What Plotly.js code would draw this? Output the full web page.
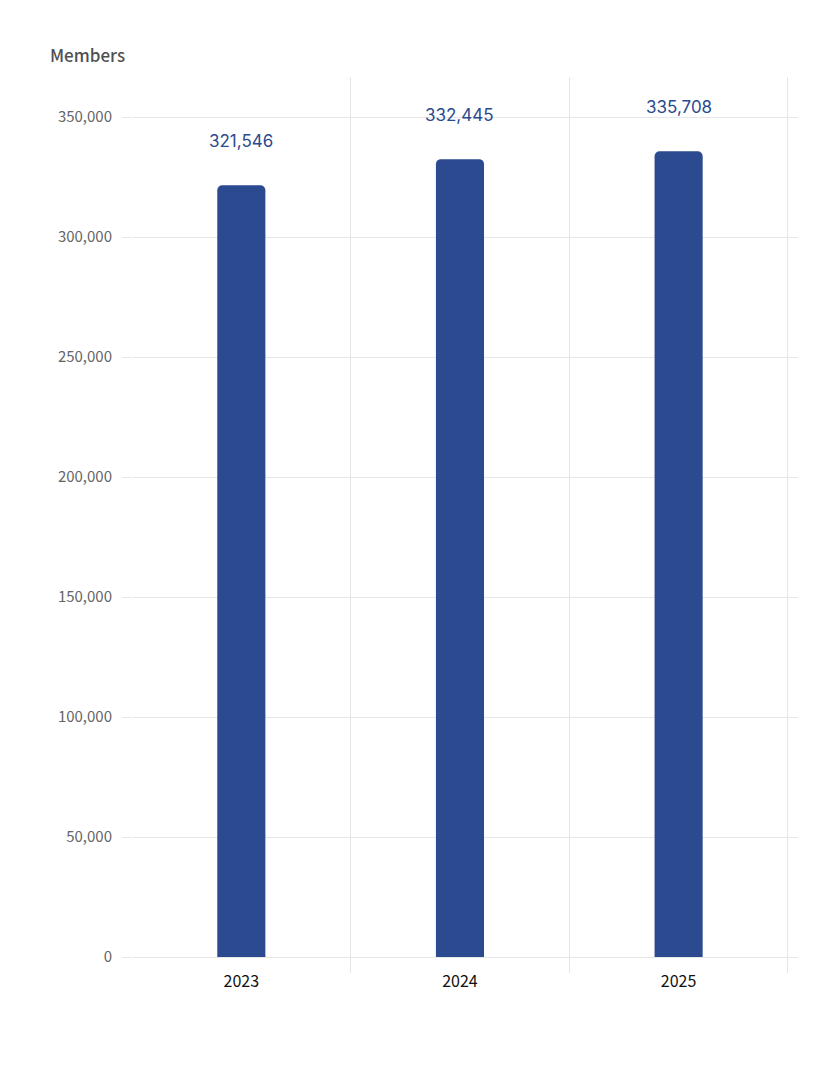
<!DOCTYPE html>
<html>
<head>
<meta charset="utf-8">
<script src="https://cdn.plot.ly/plotly-3.0.1.min.js"></script>
<style>
  body { margin: 0; background: #fff; }
  #myDiv { width: 840px; height: 1080px; }
</style>
</head>
<body>
<div id="myDiv"></div>
<script>
var years   = ["2023", "2024", "2025"];
var members = [321546, 332445, 335708];
var yTicks  = [0, 50000, 100000, 150000, 200000, 250000, 300000, 350000];

var barColor  = "#2c4a8f";
var gridColor = "#e6e6e6";
var uiFont    = "Noto Sans CJK KR";

var bars = {
    type: 'bar',
    x: years,
    y: members,
    width: 0.22,
    marker: { color: barColor, line: { width: 0 } },
    hoverinfo: 'none'
};

// value labels above each bar, x given as category index
var labels = years.map(function(year, i) {
    return {
        xref: 'x',
        yref: 'y',
        x: i,
        y: members[i],
        text: members[i].toLocaleString('en-US'),
        showarrow: false,
        yshift: 44,
        font: { family: 'Inter', size: 17, color: barColor }
    };
});

var layout = {
    width: 840,
    height: 1080,
    margin: { l: 132, r: 42, t: 77, b: 107 },
    paper_bgcolor: '#ffffff',
    plot_bgcolor: '#ffffff',
    showlegend: false,
    barcornerradius: 5,
    title: {
        text: 'Members',
        x: 50 / 840,
        xref: 'container',
        xanchor: 'left',
        y: 1 - 56 / 1080,
        yref: 'container',
        yanchor: 'middle',
        font: { family: uiFont, size: 17, color: '#505050', weight: 500 }
    },
    xaxis: {
        type: 'category',
        range: [-0.5, 2.546],
        tickson: 'boundaries',
        showgrid: true,
        gridcolor: gridColor,
        ticks: '',
        ticklabelstandoff: -3,
        showline: false,
        zeroline: false,
        tickfont: { family: uiFont, size: 16, color: '#111111' }
    },
    yaxis: {
        range: [-6667, 366667],
        tickvals: yTicks,
        tickformat: ',d',
        showgrid: true,
        gridcolor: gridColor,
        zeroline: true,
        zerolinecolor: gridColor,
        zerolinewidth: 1,
        ticks: 'outside',
        ticklen: 9,
        tickcolor: gridColor,
        ticklabelstandoff: 7,
        showline: false,
        tickfont: { family: uiFont, size: 15, color: '#666666' }
    },
    annotations: labels
};

Plotly.newPlot('myDiv', [bars], layout, { displayModeBar: false, staticPlot: true });
</script>
</body>
</html>
